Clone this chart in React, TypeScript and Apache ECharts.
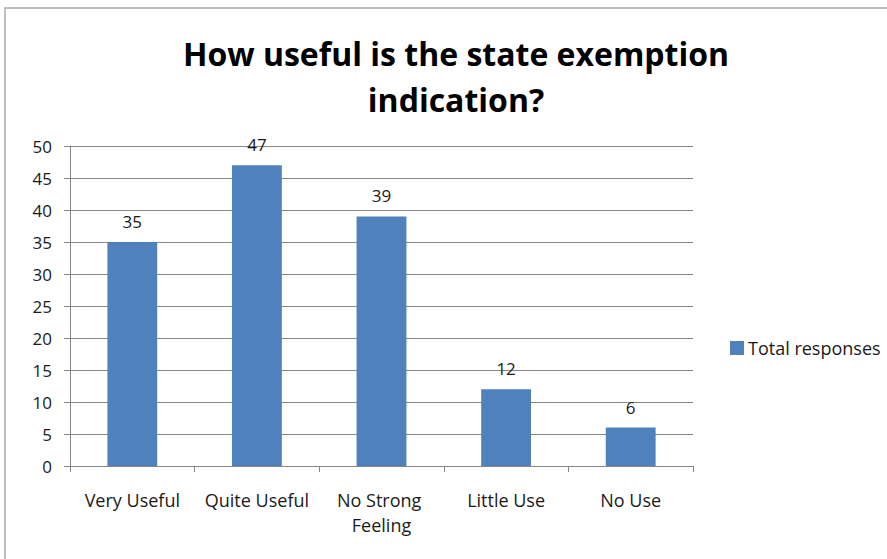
import React, { useEffect, useRef } from "react";
import * as echarts from "echarts";

const categories = ["Very Useful", "Quite Useful", "No Strong Feeling", "Little Use", "No Use"];
const totalResponses = [35, 47, 39, 12, 6];
const seriesName = "Total responses";
const titleText = "How useful is the state exemption\nindication?";

const FONT = "'Open Sans', sans-serif";

export default function App() {
  const ref = useRef<HTMLDivElement>(null);

  useEffect(() => {
    if (!ref.current) return;
    const chart = echarts.init(ref.current, undefined, { renderer: "svg" });
    chart.setOption({
      animation: false,
      backgroundColor: "#ffffff",
      textStyle: { fontFamily: FONT },
      graphic: [
        {
          type: "rect",
          shape: { x: 5, y: 8, width: 1000, height: 1000 },
          style: { fill: "none", stroke: "#bfbfbf", lineWidth: 2 },
          silent: true,
        },
      ],
      title: {
        text: titleText,
        left: 451,
        textAlign: "center",
        top: 25,
        textStyle: {
          fontFamily: FONT,
          fontSize: 32,
          fontWeight: "bold",
          color: "#000",
          lineHeight: 46,
        },
      },
      legend: {
        data: [seriesName],
        left: 725,
        top: 334,
        orient: "vertical",
        icon: "rect",
        itemWidth: 14,
        itemHeight: 14,
        itemGap: 6,
        textStyle: { fontFamily: FONT, fontSize: 18, color: "#1a1a1a", padding: [0, 0, 0, -1] },
      },
      grid: { left: 70, right: 194, top: 146, bottom: 93 },
      xAxis: {
        type: "category",
        data: categories,
        axisLine: { lineStyle: { color: "#868686", width: 1 } },
        axisTick: { show: true, length: 6, lineStyle: { color: "#868686" } },
        axisLabel: {
          fontFamily: FONT,
          fontSize: 18,
          color: "#1a1a1a",
          margin: 21,
          lineHeight: 25,
          width: 122,
          overflow: "break",
          interval: 0,
        },
      },
      yAxis: {
        type: "value",
        min: 0,
        max: 50,
        interval: 5,
        axisLine: { show: true, lineStyle: { color: "#868686", width: 1 } },
        axisTick: { show: true, length: 6, lineStyle: { color: "#868686" } },
        axisLabel: { fontFamily: FONT, fontSize: 17, color: "#1a1a1a", margin: 18 },
        splitLine: { lineStyle: { color: "#868686", width: 1 } },
      },
      series: [
        {
          name: seriesName,
          type: "bar",
          data: totalResponses,
          barWidth: "40%",
          itemStyle: { color: "#4f81bd" },
          label: {
            show: true,
            position: "top",
            distance: 12,
            fontFamily: FONT,
            fontSize: 17,
            color: "#1a1a1a",
          },
        },
      ],
    });
    return () => chart.dispose();
  }, []);

  return (
    <div
      ref={ref}
      style={{ position: "absolute", left: 0, top: 0, width: 887, height: 559 }}
    />
  );
}
